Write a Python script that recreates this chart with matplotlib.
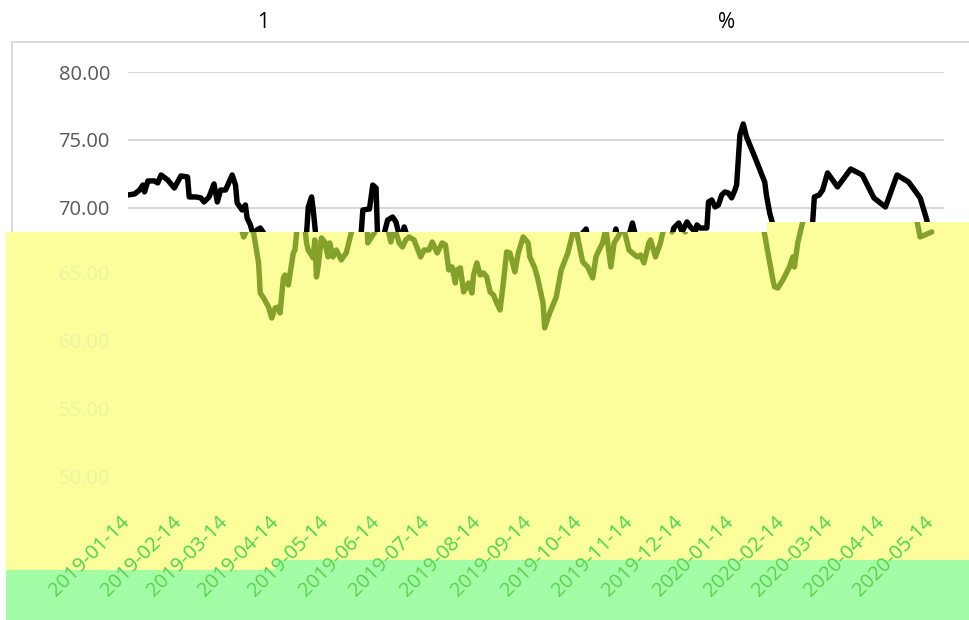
import pandas as pd
import matplotlib
matplotlib.use("Agg")
import matplotlib.pyplot as plt
import matplotlib.dates as mdates
from matplotlib import transforms
from matplotlib.patches import Polygon, Rectangle
from matplotlib.lines import Line2D

plt.rcParams['font.family'] = ['Open Sans', 'DejaVu Sans']

# series: days after 2019-01-14 and value
start = pd.Timestamp("2019-01-14")
day = [0, 4, 7, 9, 10, 12, 16, 18, 20, 24,
       28, 32, 36, 37, 41, 44, 46, 49, 52, 54,
       56, 59, 63, 65, 66, 69, 71, 72, 74, 76,
       78, 80, 82, 85, 86, 88, 91, 93, 95, 97,
       98, 100, 101, 103, 106, 107, 108, 109, 111, 112,
       114, 115, 118, 119, 120, 121, 123, 125, 127, 128,
       130, 132, 135, 138, 141, 142, 146, 148, 150, 151,
       155, 157, 160, 162, 165, 167, 170, 172, 174, 176,
       179, 183, 185, 188, 190, 193, 196, 198, 200, 202,
       204, 205, 207, 209, 212, 214, 215, 217, 219, 221,
       223, 225, 227, 229, 231, 233, 235, 237, 240, 242,
       245, 248, 249, 252, 254, 257, 258, 261, 265, 268,
       272, 275, 277, 278, 281, 284, 287, 289, 290, 293,
       295, 298, 300, 303, 305, 309, 311, 314, 316, 318,
       321, 322, 325, 328, 330, 333, 335, 338, 340, 343,
       344, 346, 350, 351, 353, 355, 357, 359, 361, 363,
       365, 367, 368, 370, 372, 374, 379, 385, 386, 388,
       390, 393, 396, 397, 399, 402, 406, 408, 409, 411,
       414, 415, 418, 420, 423, 429, 437, 444, 451, 458,
       465, 472, 479, 483, 485, 492]
value = [70.94, 71.01, 71.30, 71.67, 71.16, 71.97, 71.97, 71.82, 72.41, 72.04,
         71.45, 72.34, 72.26, 70.79, 70.79, 70.72, 70.42, 70.79, 71.75, 70.42,
         71.30, 71.30, 72.41, 71.67, 70.35, 69.83, 70.20, 69.24, 68.73, 67.84,
         68.36, 68.50, 68.14, 65.93, 63.71, 63.35, 62.68, 61.87, 62.61, 62.68,
         62.24, 64.82, 65.04, 64.30, 66.66, 66.88, 68.14, 70.05, 70.79, 69.83,
         67.40, 66.88, 66.29, 67.62, 64.89, 65.63, 67.77, 67.47, 66.37, 67.40,
         66.37, 66.88, 66.15, 66.66, 68.14, 69.83, 69.90, 71.67, 71.45, 67.40,
         68.14, 69.09, 69.31, 68.95, 67.47, 68.58, 67.40, 67.10, 67.62, 67.84,
         67.62, 66.37, 66.88, 66.88, 67.47, 66.66, 67.40, 67.25, 65.41, 65.63,
         64.45, 65.41, 65.56, 63.79, 64.45, 63.71, 65.04, 65.93, 65.04, 65.19,
         64.89, 63.79, 63.57, 62.98, 62.46, 64.45, 66.74, 66.66, 65.26, 66.66,
         67.84, 67.40, 66.37, 65.56, 64.67, 62.98, 61.14, 62.24, 63.42, 65.41,
         66.66, 68.14, 68.43, 67.77, 66.00, 65.63, 64.82, 66.37, 66.66, 67.40,
         68.43, 65.63, 67.40, 67.99, 68.87, 66.88, 66.66, 66.37, 66.51, 65.93,
         67.40, 67.62, 66.37, 67.40, 68.50, 68.87, 68.21, 68.95, 68.58, 68.21,
         68.73, 68.50, 68.50, 70.42, 70.57, 70.05, 70.20, 70.94, 71.16, 71.08,
         70.72, 71.30, 71.67, 75.36, 76.17, 75.21, 73.74, 71.89, 70.94, 69.61,
         68.73, 66.66, 64.67, 64.16, 64.08, 64.67, 65.63, 66.37, 65.63, 67.40,
         68.95, 70.79, 70.94, 71.30, 72.56, 71.53, 72.85, 72.41, 70.72, 70.05,
         72.41, 71.89, 70.72, 69.09, 67.84, 68.21]

tick_labels = ["2019-01-14", "2019-02-14", "2019-03-14", "2019-04-14", "2019-05-14",
               "2019-06-14", "2019-07-14", "2019-08-14", "2019-09-14", "2019-10-14",
               "2019-11-14", "2019-12-14", "2020-01-14", "2020-02-14", "2020-03-14",
               "2020-04-14", "2020-05-14"]
y_ticks = [50, 55, 60, 65, 70, 75, 80]

W, H = 969, 620
fig = plt.figure(figsize=(W / 100, H / 100), dpi=100)


def fx(px):
    return px / W


def fy(py):
    return 1 - py / H


def poly(pts, **kw):
    return Polygon([(fx(a), fy(b)) for a, b in pts], closed=True,
                   transform=fig.transFigure, **kw)


# chart frame
fig.add_artist(Rectangle((fx(12), fy(900)), fx(1100) - fx(12), fy(42) - fy(900),
                         fill=False, ec="#d9d9d9", lw=1.3, transform=fig.transFigure,
                         zorder=-1))

ax = fig.add_axes([fx(128), fy(479), fx(944) - fx(128), fy(72) - fy(479)])
x = mdates.date2num(start + pd.to_timedelta(day, unit="D"))
x0 = mdates.date2num(start)
ax.plot(x, value, color="black", lw=3.9, solid_joinstyle="round",
        solid_capstyle="round", zorder=3)
ax.set_ylim(50, 80)
ax.set_xlim(x0 + 0.6, x0 + 493.4)
ax.set_yticks(y_ticks)
# lower labels sit under the yellow block; they are drawn tinted further down
ax.set_yticklabels([f"{v:.2f}" if v >= 70 else "" for v in y_ticks])
tick_x = mdates.date2num(pd.to_datetime(tick_labels))
ax.set_xticks(tick_x)
ax.yaxis.grid(True, color="#d9d9d9", lw=1.5)
ax.set_axisbelow(True)
ax.tick_params(axis="y", length=0, pad=13, labelsize=14.5, labelcolor="#595959")
ax.tick_params(axis="x", length=0, labelbottom=False)
for s in ax.spines.values():
    s.set_visible(False)

# title (glyphs that render)
fig.text(fx(263), fy(22), "1", ha="center", va="center", fontsize=15, color="black")
fig.text(fx(727), fy(22), "%", ha="center", va="center", fontsize=15, color="black")

# coloured overlay blocks
yellow = poly([(6, 232), (767, 232), (767, 222), (975, 222), (975, 560),
               (275, 560), (275, 570), (6, 570)], fc="#fcfe9c", ec="none", zorder=1)
green = poly([(6, 570), (275, 570), (275, 560), (975, 560), (975, 630), (6, 630)],
             fc="#a2fda6", ec="none", zorder=1)
fig.add_artist(yellow)
fig.add_artist(green)

shift = transforms.offset_copy(ax.transData, fig=fig, x=-10, y=0, units="dots")
olive = Line2D(x, value, color="#84a22b", lw=3.9, solid_joinstyle="round",
               solid_capstyle="round", transform=shift, zorder=2)
fig.add_artist(olive)
olive.set_clip_path(yellow)

pale = "#e9f59f"
ylab_tr = transforms.blended_transform_factory(fig.transFigure, shift)
for v in y_ticks[:4]:
    t = fig.text(fx(110), v, f"{v:.2f}", transform=ylab_tr, ha="right", va="center",
                 fontsize=14.5, color=pale, zorder=3)
    t.set_clip_path(yellow)

xlab_tr = transforms.offset_copy(
    transforms.blended_transform_factory(ax.transData, fig.transFigure),
    fig=fig, x=-8, y=0, units="dots")
for tx, lab in zip(tick_x, tick_labels):
    for col, clip in ((pale, yellow), ("#4cd64f", green)):
        t = fig.text(tx, fy(512), lab, transform=xlab_tr, rotation=45,
                     rotation_mode="anchor", ha="right", va="top",
                     fontsize=14.5, color=col, zorder=3)
        t.set_clip_path(clip)

fig.savefig("out.png", dpi=100)
